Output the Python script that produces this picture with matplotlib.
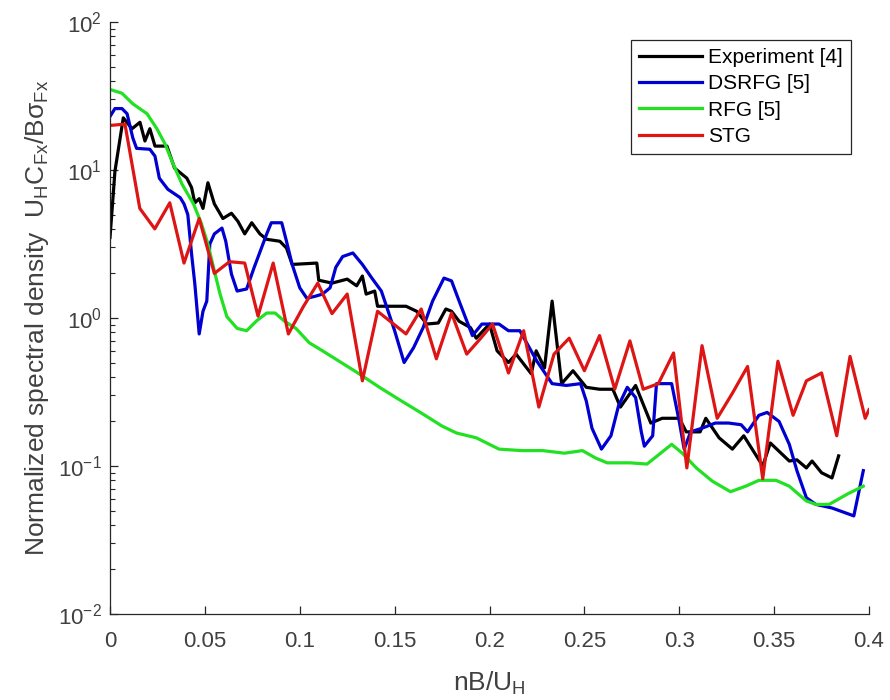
import matplotlib
matplotlib.use('Agg')
import matplotlib.pyplot as plt
from matplotlib.ticker import LogLocator, NullFormatter

plt.rcParams['font.family'] = ['Liberation Sans', 'DejaVu Sans']
plt.rcParams['mathtext.fontset'] = 'custom'
plt.rcParams['mathtext.rm'] = 'Liberation Sans'
plt.rcParams['mathtext.it'] = 'Liberation Sans'
plt.rcParams['mathtext.bf'] = 'Liberation Sans'

# Experiment [4]
exp_x = [0, 0.0026, 0.007, 0.0116, 0.0158, 0.0184, 0.021, 0.0237, 0.030, 0.034,
         0.0405, 0.043, 0.0447, 0.047, 0.049, 0.0516, 0.055, 0.0595, 0.064, 0.0674,
         0.071, 0.0747, 0.079, 0.0826, 0.0895, 0.093, 0.096, 0.109, 0.11, 0.117,
         0.125, 0.13, 0.133, 0.135, 0.1395, 0.141, 0.147, 0.156, 0.1616, 0.167,
         0.173, 0.177, 0.18, 0.184, 0.19, 0.193, 0.2, 0.204, 0.21, 0.214,
         0.222, 0.2246, 0.229, 0.233, 0.238, 0.244, 0.251, 0.258, 0.265, 0.269,
         0.277, 0.285, 0.291, 0.3, 0.3037, 0.311, 0.314, 0.321, 0.328, 0.334,
         0.344, 0.348, 0.358, 0.362, 0.367, 0.37, 0.375, 0.3805, 0.384]
exp_y = [3.5, 9.8, 22.5, 19, 21, 15.7, 19, 14.5, 14.5, 10.3,
         8.8, 7.6, 6.0, 6.4, 5.5, 8.2, 5.9, 4.7, 5.1, 4.5,
         3.7, 4.4, 3.7, 3.4, 3.3, 2.97, 2.3, 2.35, 1.8, 1.72,
         1.83, 1.65, 1.92, 1.45, 1.52, 1.2, 1.2, 1.2, 1.11, 0.91,
         0.925, 1.15, 1.11, 0.95, 0.86, 0.73, 0.91, 0.6, 0.5, 0.57,
         0.42, 0.6, 0.46, 1.3, 0.36, 0.44, 0.34, 0.33, 0.33, 0.25,
         0.35, 0.195, 0.21, 0.21, 0.17, 0.17, 0.21, 0.155, 0.13, 0.16,
         0.10, 0.143, 0.108, 0.11, 0.097, 0.108, 0.09, 0.083, 0.117]

# DSRFG [5]
dsrfg_x = [0, 0.0026, 0.0063, 0.009, 0.012, 0.014, 0.021, 0.0237, 0.026, 0.0305,
           0.037, 0.039, 0.041, 0.043, 0.0447, 0.047, 0.049, 0.051, 0.0526, 0.055,
           0.059, 0.061, 0.064, 0.067, 0.072, 0.076, 0.0826, 0.085, 0.0905, 0.093,
           0.096, 0.1, 0.1037, 0.108, 0.112, 0.116, 0.119, 0.1226, 0.128, 0.133,
           0.138, 0.143, 0.146, 0.15, 0.155, 0.16, 0.165, 0.17, 0.176, 0.18,
           0.184, 0.191, 0.196, 0.205, 0.21, 0.216, 0.225, 0.233, 0.2405, 0.248,
           0.251, 0.254, 0.259, 0.264, 0.268, 0.2726, 0.277, 0.28, 0.2816, 0.286,
           0.288, 0.296, 0.3, 0.3026, 0.306, 0.312, 0.319, 0.326, 0.3326, 0.336,
           0.342, 0.3463, 0.3526, 0.358, 0.362, 0.367, 0.372, 0.3805, 0.392, 0.397]
dsrfg_y = [23, 26, 26, 24, 16.5, 14, 13.8, 12.4, 8.8, 7.4,
           6.5, 5.9, 5.0, 2.7, 1.7, 0.78, 1.11, 1.3, 3.16, 3.7,
           4.05, 3.3, 1.98, 1.52, 1.57, 2.2, 3.7, 4.4, 4.4, 3.3,
           2.3, 1.6, 1.36, 1.4, 1.45, 1.6, 2.2, 2.6, 2.75, 2.3,
           1.86, 1.52, 1.17, 0.82, 0.5, 0.63, 0.86, 1.3, 1.86, 1.78,
           1.3, 0.76, 0.91, 0.91, 0.82, 0.82, 0.51, 0.36, 0.35, 0.36,
           0.275, 0.18, 0.13, 0.16, 0.255, 0.34, 0.29, 0.17, 0.136, 0.16,
           0.36, 0.36, 0.2, 0.13, 0.17, 0.18, 0.195, 0.195, 0.19, 0.17,
           0.22, 0.23, 0.2, 0.14, 0.093, 0.061, 0.055, 0.052, 0.046, 0.093]

# RFG [5]
rfg_x = [0, 0.0063, 0.012, 0.0195, 0.0247, 0.029, 0.033, 0.038, 0.044, 0.048,
         0.0516, 0.055, 0.058, 0.0616, 0.067, 0.072, 0.0774, 0.0826, 0.087, 0.092,
         0.098, 0.105, 0.112, 0.13, 0.142, 0.1526, 0.165, 0.175, 0.1826, 0.193,
         0.205, 0.217, 0.228, 0.2395, 0.249, 0.256, 0.262, 0.274, 0.283, 0.2895,
         0.296, 0.3016, 0.309, 0.3174, 0.327, 0.335, 0.342, 0.351, 0.358, 0.367,
         0.372, 0.379, 0.389, 0.397]
rfg_y = [35, 33, 28, 24, 19, 15, 11.2, 8, 5.9, 4.4,
         3.16, 2.08, 1.45, 1.02, 0.85, 0.82, 0.96, 1.08, 1.08, 0.95,
         0.85, 0.68, 0.6, 0.43, 0.34, 0.28, 0.224, 0.186, 0.167, 0.155,
         0.13, 0.127, 0.127, 0.122, 0.127, 0.113, 0.105, 0.105, 0.103, 0.12,
         0.14, 0.122, 0.097, 0.079, 0.067, 0.073, 0.08, 0.08, 0.073, 0.058,
         0.055, 0.055, 0.065, 0.073]

# STG
stg_x = [0, 0.0079, 0.0157, 0.0236, 0.0315, 0.039, 0.047, 0.055, 0.063, 0.071,
         0.078, 0.086, 0.094, 0.102, 0.1095, 0.117, 0.125, 0.133, 0.141, 0.149,
         0.156, 0.164, 0.172, 0.18, 0.188, 0.195, 0.2016, 0.21, 0.218, 0.226,
         0.234, 0.242, 0.25, 0.258, 0.266, 0.274, 0.281, 0.289, 0.297, 0.304,
         0.312, 0.32, 0.328, 0.336, 0.344, 0.352, 0.36, 0.367, 0.375, 0.383,
         0.39, 0.398, 0.4]
stg_y = [20, 20.4, 5.5, 4.0, 6.0, 2.35, 4.7, 2.0, 2.4, 2.35,
         1.03, 2.35, 0.78, 1.2, 1.72, 1.07, 1.45, 0.376, 1.11, 0.92,
         0.78, 1.15, 0.53, 1.08, 0.57, 0.72, 0.91, 0.425, 0.82, 0.25,
         0.57, 0.73, 0.44, 0.76, 0.33, 0.7, 0.33, 0.36, 0.58, 0.097,
         0.65, 0.21, 0.31, 0.47, 0.082, 0.51, 0.22, 0.376, 0.425, 0.16,
         0.55, 0.21, 0.24]

fig = plt.figure(figsize=(8.9, 7.0), dpi=100)
ax = fig.add_axes([0.1236, 0.1229, 0.8528, 0.8457])

lw = 2.3
ax.plot(exp_x, exp_y, color='black', lw=lw, label='Experiment [4]')
ax.plot(dsrfg_x, dsrfg_y, color='#0000d0', lw=lw, label='DSRFG [5]')
ax.plot(rfg_x, rfg_y, color='#22e022', lw=lw, label='RFG [5]')
ax.plot(stg_x, stg_y, color='#dd1515', lw=lw, label='STG')

ax.set_yscale('log')
ax.set_xlim(0, 0.4)
ax.set_ylim(1e-2, 1e2)
ax.set_xticks([0, 0.05, 0.1, 0.15, 0.2, 0.25, 0.3, 0.35, 0.4])
ax.set_xticklabels(['0', '0.05', '0.1', '0.15', '0.2', '0.25', '0.3', '0.35', '0.4'])
ax.yaxis.set_major_locator(LogLocator(base=10, numticks=10))
ax.yaxis.set_minor_locator(LogLocator(base=10, subs=range(2, 10), numticks=20))
ax.yaxis.set_minor_formatter(NullFormatter())

axis_col = '#262626'
for side in ['top', 'right']:
    ax.spines[side].set_visible(False)
for side in ['left', 'bottom']:
    ax.spines[side].set_color(axis_col)
    ax.spines[side].set_linewidth(0.9)
ax.tick_params(which='both', direction='in', colors=axis_col, labelcolor='#404040', labelsize=16)
ax.tick_params(which='major', length=6, width=0.9)
ax.tick_params(which='minor', length=3.5, width=0.8)
ax.tick_params(axis='x', pad=12)
ax.tick_params(axis='y', pad=6)

ax.set_xlabel(r'nB/$\mathrm{U_H}$', fontsize=19, color='#404040')
ax.set_ylabel(r'Normalized spectral density  $\mathrm{U_HC_{Fx}/B\sigma_{Fx}}$',
              fontsize=19, color='#404040')
ax.xaxis.set_label_coords(0.5, -0.095)
ax.yaxis.set_label_coords(-0.078, 0.5)

leg = ax.legend(loc='upper right', fontsize=15, handlelength=3.0, handletextpad=0.3,
                labelspacing=0.35, borderaxespad=0.85, borderpad=0.4,
                fancybox=False, framealpha=1)
leg.get_frame().set_edgecolor(axis_col)
leg.get_frame().set_linewidth(0.9)

fig.savefig('out.png', dpi=100)
